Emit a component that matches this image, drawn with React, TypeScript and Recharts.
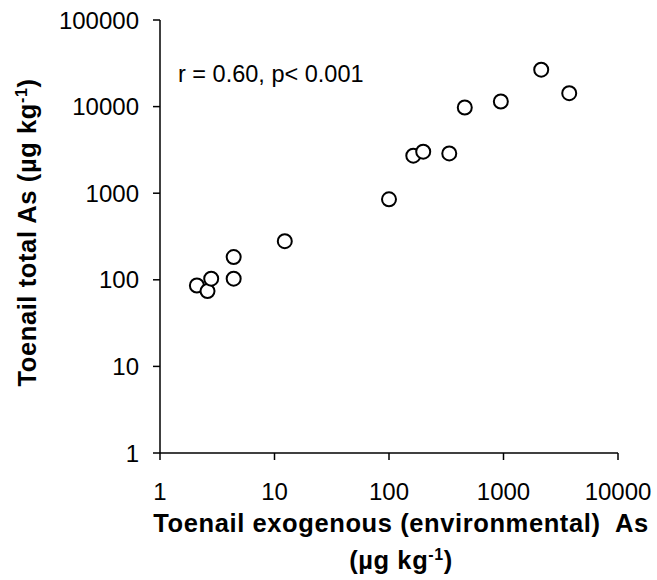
import React from "react";
import {
  ScatterChart,
  Scatter,
  XAxis,
  YAxis,
  Label,
  Customized,
} from "recharts";

// exogenous (environmental) As vs total As, both in µg/kg
const exogenousAs = [2.1, 2.6, 2.8, 4.4, 4.4, 12.3, 100, 163, 199, 336, 459, 948, 2135, 3750];
const totalAs = [86, 74, 103, 183, 103, 279, 850, 2710, 3015, 2880, 9770, 11450, 26700, 14300];

const xTicks = [1, 10, 100, 1000, 10000];
const yTicks = [1, 10, 100, 1000, 10000, 100000];

const points = exogenousAs.map((x, i) => ({ x, y: totalAs[i] }));

const FONT = "Arial, 'Liberation Sans', sans-serif";

const Ring = (props: any) => {
  const { cx, cy } = props;
  return <circle cx={cx} cy={cy} r={7} fill="#fff" stroke="#000" strokeWidth={2} />;
};

const XTitle = (props: any) => {
  const vb = props.viewBox;
  const cx = vb.x + vb.width / 2 + 12;
  return (
    <g fontFamily={FONT} fontWeight="bold" fontSize={25.5} fill="#000" letterSpacing={0.6}>
      <text x={cx} y={vb.y + 79} textAnchor="middle" style={{ whiteSpace: "pre" }}>
        {"Toenail exogenous (environmental)  As"}
      </text>
      <text x={cx} y={vb.y + 116} textAnchor="middle">
        (µg kg<tspan dy={-9} fontSize={16}>-1</tspan>
        <tspan dy={9}>)</tspan>
      </text>
    </g>
  );
};

const YTitle = (props: any) => {
  const vb = props.viewBox;
  const cy = vb.y + vb.height / 2 - 4;
  return (
    <text
      transform={`translate(36, ${cy}) rotate(-90)`}
      textAnchor="middle"
      fontFamily={FONT}
      fontWeight="bold"
      fontSize={25.5}
      letterSpacing={0.6}
      fill="#000"
    >
      Toenail total As (µg kg<tspan dy={-9} fontSize={16}>-1</tspan>
      <tspan dy={9}>)</tspan>
    </text>
  );
};

const Note = () => (
  <text x={178} y={82} fontFamily={FONT} fontSize={23.5} fill="#000">
    r = 0.60, p&lt; 0.001
  </text>
);

export default function App() {
  const tickStyle = { fontFamily: FONT, fontSize: 24, fill: "#000" };
  return (
    <div style={{ position: "absolute", left: 0, top: 0, background: "#fff" }}>
      <ScatterChart width={657} height={580} margin={{ top: 20, right: 39, bottom: 0, left: 0 }}>
        <XAxis
          xAxisId="top"
          orientation="top"
          type="number"
          dataKey="x"
          scale="log"
          domain={[1, 10000]}
          height={0}
          tick={false}
          tickLine={false}
          stroke="#888"
          strokeWidth={2}
        />
        <YAxis
          yAxisId="right"
          orientation="right"
          type="number"
          dataKey="y"
          scale="log"
          domain={[1, 100000]}
          width={0}
          tick={false}
          tickLine={false}
          stroke="#888"
          strokeWidth={2}
        />
        <XAxis
          type="number"
          dataKey="x"
          scale="log"
          domain={[1, 10000]}
          ticks={xTicks}
          allowDataOverflow
          height={127}
          tickSize={7}
          tickMargin={23}
          tick={tickStyle}
          stroke="#000"
          strokeWidth={1.5}
        >
          <Label content={<XTitle />} />
        </XAxis>
        <YAxis
          type="number"
          dataKey="y"
          scale="log"
          domain={[1, 100000]}
          ticks={yTicks}
          allowDataOverflow
          width={160}
          tickSize={7}
          tickMargin={14}
          tick={tickStyle}
          stroke="#000"
          strokeWidth={1.5}
        >
          <Label content={<YTitle />} />
        </YAxis>
        <Scatter data={points} shape={<Ring />} isAnimationActive={false} />
        <Customized component={Note} />
      </ScatterChart>
    </div>
  );
}
